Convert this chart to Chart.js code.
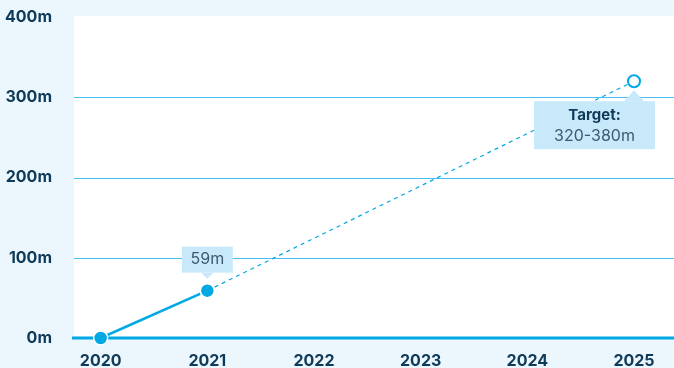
<!DOCTYPE html>
<html>
<head>
<meta charset="utf-8">
<script src="https://cdn.jsdelivr.net/npm/chart.js@4/dist/chart.umd.min.js"></script>
<style>
  html, body { margin: 0; padding: 0; background: #ebf7fd; overflow: hidden; }
  canvas { display: block; }
</style>
</head>
<body>
<canvas id="growth" width="674" height="368"></canvas>
<script>
// revenue so far and the projected path to the 2025 target (millions)
const years = [2020, 2021, 2022, 2023, 2024, 2025];
const actualYears = [2020, 2021];
const actualValues = [0, 59];
const projectedYears = [2021, 2025];
const projectedValues = [59, 320];
const yTicks = [0, 100, 200, 300, 400];
const targetLabel = ['Target:', '320-380m'];

const BLUE = '#00a8e4';
const GRID = '#45c0ee';
const INK = '#0f3a58';
const SOFT_INK = '#3c5a70';
const BOX = '#c8e9fa';
const FONT = 'Inter, "Open Sans", sans-serif';

const toPoints = (xs, ys) => xs.map((x, i) => ({ x, y: ys[i] }));

// white plot area, horizontal grid and the thick zero line
const plotBg = {
    id: 'plotBg',
    beforeDatasetsDraw(chart) {
        const { ctx, chartArea: a, scales } = chart;
        ctx.save();
        ctx.fillStyle = '#ffffff';
        ctx.fillRect(a.left, a.top - 1, a.right - a.left, a.bottom - a.top + 1);

        ctx.strokeStyle = GRID;
        ctx.lineWidth = 1;
        yTicks.filter(v => v > 0 && v < 400).forEach(v => {
            const y = Math.round(scales.y.getPixelForValue(v)) + 0.5;
            ctx.beginPath();
            ctx.moveTo(a.left, y);
            ctx.lineTo(a.right, y);
            ctx.stroke();
        });

        const y0 = scales.y.getPixelForValue(0);
        ctx.strokeStyle = BLUE;
        ctx.lineWidth = 3;
        ctx.beginPath();
        ctx.moveTo(a.left - 2, y0);
        ctx.lineTo(a.right, y0);
        ctx.stroke();
        ctx.restore();
    }
};

// value callouts anchored to the data points
const callouts = {
    id: 'callouts',
    afterDatasetsDraw(chart) {
        const { ctx, scales } = chart;
        ctx.save();
        ctx.textAlign = 'center';
        ctx.textBaseline = 'middle';

        // 59m above the 2021 point
        const lastIdx = actualValues.length - 1;
        const px = scales.x.getPixelForValue(actualYears[lastIdx]);
        const py = scales.y.getPixelForValue(actualValues[lastIdx]);
        const w1 = 51, h1 = 26;
        ctx.fillStyle = BOX;
        ctx.fillRect(px - w1 / 2, py - 44, w1, h1);
        ctx.beginPath();
        ctx.moveTo(px - 6, py - 18);
        ctx.lineTo(px + 6, py - 18);
        ctx.lineTo(px, py - 12);
        ctx.closePath();
        ctx.fill();
        ctx.fillStyle = SOFT_INK;
        ctx.font = '16px ' + FONT;
        ctx.fillText(actualValues[lastIdx] + 'm', px, py - 31);

        // target box below the 2025 point
        const tIdx = projectedValues.length - 1;
        const tx = scales.x.getPixelForValue(projectedYears[tIdx]);
        const ty = scales.y.getPixelForValue(projectedValues[tIdx]);
        const bw = 121, bh = 48, btop = ty + 20, bx = tx - 100;
        ctx.fillStyle = BOX;
        ctx.fillRect(bx, btop, bw, bh);
        ctx.beginPath();
        ctx.moveTo(tx - 10, btop);
        ctx.lineTo(tx + 10, btop);
        ctx.lineTo(tx, btop - 11);
        ctx.closePath();
        ctx.fill();
        const bcx = bx + bw / 2;
        ctx.fillStyle = INK;
        ctx.font = 'bold 15px ' + FONT;
        ctx.fillText(targetLabel[0], bcx, btop + 14);
        ctx.fillStyle = SOFT_INK;
        ctx.font = '16px ' + FONT;
        ctx.fillText(targetLabel[1], bcx, btop + 35);

        ctx.restore();
    }
};

new Chart(document.getElementById('growth'), {
    type: 'line',
    data: {
        datasets: [
            {
                label: 'Projected',
                data: toPoints(projectedYears, projectedValues),
                borderColor: BLUE,
                borderWidth: 1.2,
                borderDash: [4, 4],
                pointRadius: [0, 6],
                pointBackgroundColor: '#ffffff',
                pointBorderColor: BLUE,
                pointBorderWidth: 2,
                clip: false,
                order: 2
            },
            {
                label: 'Actual',
                data: toPoints(actualYears, actualValues),
                borderColor: BLUE,
                borderWidth: 2.5,
                pointRadius: 7,
                pointBackgroundColor: BLUE,
                pointBorderColor: '#ffffff',
                pointBorderWidth: 1.5,
                clip: false,
                order: 1
            }
        ]
    },
    options: {
        responsive: false,
        animation: false,
        layout: { autoPadding: false, padding: { top: 17, right: 0, left: 0, bottom: 0 } },
        plugins: { legend: { display: false }, tooltip: { enabled: false } },
        scales: {
            x: {
                type: 'linear',
                min: 2019.75,
                max: 2025.375,
                afterBuildTicks(scale) { scale.ticks = years.map(v => ({ value: v })); },
                afterFit(scale) {
                    scale.height = 30;
                    scale.paddingLeft = 0;
                    scale.paddingRight = 0;
                },
                grid: { display: false },
                border: { display: false },
                ticks: {
                    color: INK,
                    font: { family: FONT, size: 16, weight: 'bold' },
                    padding: 6,
                    maxRotation: 0,
                    callback: v => String(v)
                }
            },
            y: {
                min: 0,
                max: 400,
                afterBuildTicks(scale) { scale.ticks = yTicks.map(v => ({ value: v })); },
                afterFit(scale) {
                    scale.width = 74;
                    scale.paddingTop = 0;
                    scale.paddingBottom = 0;
                },
                grid: { display: false },
                border: { display: false },
                ticks: {
                    color: INK,
                    font: { family: FONT, size: 16, weight: 'bold' },
                    padding: 14,
                    callback: v => v + 'm'
                }
            }
        }
    },
    plugins: [plotBg, callouts]
});
</script>
</body>
</html>
